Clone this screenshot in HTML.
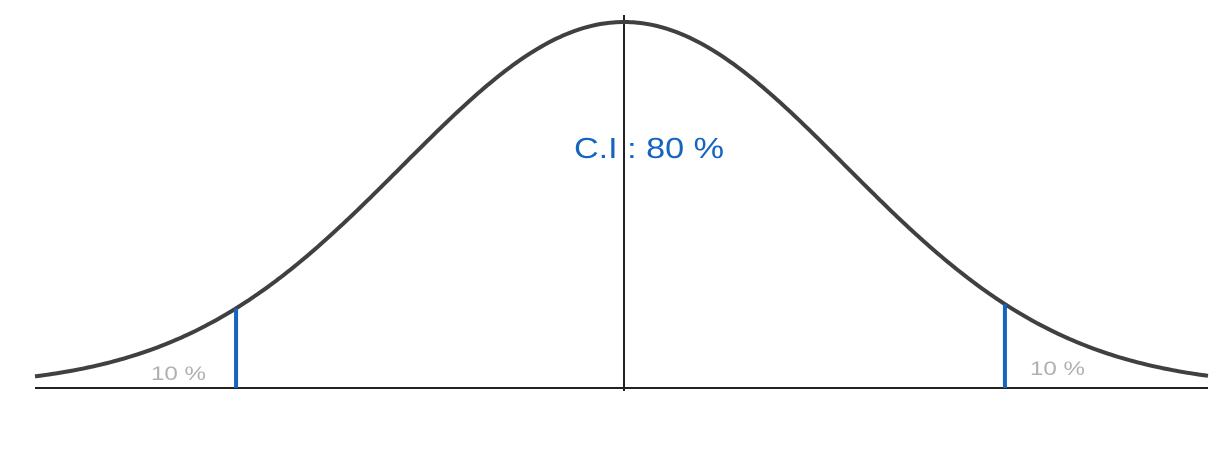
<!DOCTYPE html>
<html><head><meta charset="utf-8"><style>
html,body{margin:0;padding:0;background:#fff;width:1230px;height:463px;overflow:hidden}
svg{display:block}
text{font-family:"Liberation Sans",sans-serif}
</style></head><body>
<svg id="chart" width="1230" height="463" viewBox="0 0 1230 463">
  <line x1="35" y1="388" x2="1208" y2="388" stroke="#222" stroke-width="2"/>
  <line x1="624" y1="15" x2="624" y2="391" stroke="#222" stroke-width="2"/>
  <path id="curve" fill="none" stroke="#404040" stroke-width="4"/>
  <g id="marks"></g>
  <text x="574" y="158" font-size="29" fill="#1565c0" textLength="150" lengthAdjust="spacingAndGlyphs">C.I : 80 %</text>
  <text x="151" y="380" font-size="19" fill="#b0b0b0" textLength="55" lengthAdjust="spacingAndGlyphs">10 %</text>
  <text x="1030" y="375" font-size="19" fill="#b0b0b0" textLength="55" lengthAdjust="spacingAndGlyphs">10 %</text>
</svg>
<script>
const distMean = [0];
const distSigma = [1];
const ciBounds = [-1.752, 1.722];
const xDomain = [-2.66, 2.64];
const px0 = 35, px1 = 1208, baseY = 388, peakY = 22;
const meanPx = 624;
const sx = v => v < 0 ? meanPx + (v / -xDomain[0]) * (meanPx - px0) : meanPx + (v / xDomain[1]) * (px1 - meanPx);
const pdf = v => Math.exp(-0.5 * Math.pow((v - distMean[0]) / distSigma[0], 2));
const sy = d => baseY - 1 - d * (baseY - 1 - peakY);
let dstr = '';
for (let i = 0; i <= 400; i++) {
  const v = xDomain[0] + (xDomain[1] - xDomain[0]) * i / 400;
  dstr += (i ? 'L' : 'M') + sx(v).toFixed(1) + ',' + sy(pdf(v)).toFixed(1);
}
document.getElementById('curve').setAttribute('d', dstr);
const g = document.getElementById('marks');
ciBounds.forEach((b, i) => {
  const l = document.createElementNS('http://www.w3.org/2000/svg', 'line');
  
  
  l.setAttribute('x1', sx(b)); l.setAttribute('x2', sx(b));
  l.setAttribute('y1', sy(pdf(b))); l.setAttribute('y2', baseY);
  l.setAttribute('stroke', '#1565c0'); l.setAttribute('stroke-width', '4');
  g.appendChild(l);
});
</script>
</body></html>
